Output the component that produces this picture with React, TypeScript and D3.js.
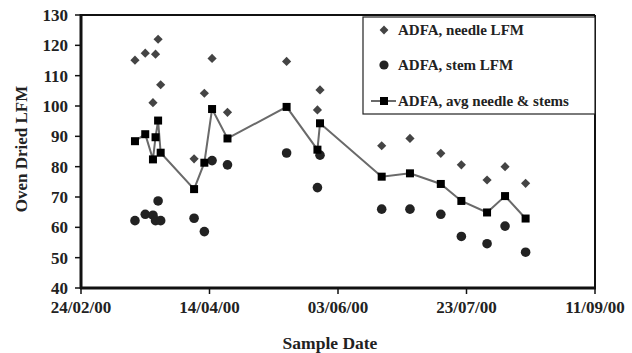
import React from "react";
import * as d3 from "d3";

const dates = [
  "16/03/00", "20/03/00", "23/03/00", "24/03/00", "25/03/00", "26/03/00",
  "08/04/00", "12/04/00", "15/04/00", "21/04/00", "14/05/00", "26/05/00",
  "27/05/00", "20/06/00", "01/07/00", "13/07/00", "21/07/00", "31/07/00",
  "07/08/00", "15/08/00",
];
const needle = [
  115.1, 117.4, 101.1, 117.1, 122.0, 107.0,
  82.6, 104.2, 115.7, 97.9, 114.7, 98.7,
  105.3, 86.9, 89.3, 84.4, 80.6, 75.6,
  80.0, 74.5,
];
const stem = [
  62.2, 64.3, 64.0, 62.2, 68.7, 62.2,
  63.0, 58.6, 82.0, 80.6, 84.5, 73.1,
  83.8, 66.0, 66.0, 64.3, 57.0, 54.6,
  60.4, 51.8,
];
const avg = [
  88.4, 90.7, 82.4, 89.7, 95.2, 84.6,
  72.6, 81.3, 99.0, 89.3, 99.7, 85.6,
  94.3, 76.7, 77.8, 74.3, 68.7, 64.9,
  70.3, 62.9,
];
const xTickLabels = ["24/02/00", "14/04/00", "03/06/00", "23/07/00", "11/09/00"];
const yTicks = [40, 50, 60, 70, 80, 90, 100, 110, 120, 130];
const legendLabels = ["ADFA, needle LFM", "ADFA, stem LFM", "ADFA, avg needle & stems"];

const parse = d3.timeParse("%d/%m/%y");
const FONT = "'Liberation Serif', 'Times New Roman', serif";

export default function App() {
  const W = 632, H = 353;
  const L = 81, R = 595, T = 15, B = 288;
  const x = d3.scaleTime()
    .domain([parse(xTickLabels[0])!, parse(xTickLabels[xTickLabels.length - 1])!])
    .range([L, R]);
  const y = d3.scaleLinear().domain([40, 130]).range([B, T]);
  const pts = dates.map((d, i) => ({ t: parse(d)!, n: needle[i], s: stem[i], a: avg[i] }));
  const line = d3.line<{ t: Date; a: number }>().x(d => x(d.t)).y(d => y(d.a));
  const diamond = (cx: number, cy: number, r: number) =>
    `M${cx},${cy - r}L${cx + r},${cy}L${cx},${cy + r}L${cx - r},${cy}Z`;

  const lx = 363, ly = 17, lw = R - lx, lh = 97;
  const legY = [30, 65, 101];
  const mx = 384;

  return (
    <svg width={W} height={H} style={{ position: "absolute", left: 0, top: 0, background: "#fff" }}
      fontFamily={FONT}>
      <rect x={0} y={0} width={W} height={H} fill="#fff" />
      {/* frame top/right */}
      <line x1={L} y1={T} x2={R} y2={T} stroke="#111" strokeWidth={2} />
      <line x1={R} y1={T} x2={R} y2={B} stroke="#111" strokeWidth={2} />
      {/* y axis */}
      <line x1={L} y1={T - 1} x2={L} y2={B + 1} stroke="#111" strokeWidth={3} />
      {yTicks.map(v => (
        <g key={v}>
          <line x1={L - 6} x2={L} y1={y(v)} y2={y(v)} stroke="#111" strokeWidth={1.5} />
          <text x={68} y={y(v)} dy="0.35em" textAnchor="end" fontSize={17} fontWeight="bold" fill="#222">{v}</text>
        </g>
      ))}
      {/* x axis */}
      <line x1={L - 1} y1={B} x2={R + 1} y2={B} stroke="#111" strokeWidth={3} />
      {xTickLabels.map(s => (
        <g key={s}>
          <line x1={x(parse(s)!)} x2={x(parse(s)!)} y1={B} y2={B + 6} stroke="#111" strokeWidth={1.5} />
          <text x={x(parse(s)!)} y={313} textAnchor="middle" fontSize={17} fontWeight="bold" fill="#222">{s}</text>
        </g>
      ))}
      <text x={330} y={349} textAnchor="middle" fontSize={17.5} fontWeight="bold" fill="#222">Sample Date</text>
      <text transform={`translate(27,${149}) rotate(-90)`} textAnchor="middle" fontSize={17} fontWeight="bold" fill="#222">Oven Dried LFM</text>

      {/* data */}
      <path d={line(pts) || ""} fill="none" stroke="#6a6a6a" strokeWidth={2} />
      {pts.map((p, i) => (
        <path key={"n" + i} d={diamond(x(p.t), y(p.n), 4.6)} fill="#444" />
      ))}
      {pts.map((p, i) => (
        <circle key={"s" + i} cx={x(p.t)} cy={y(p.s)} r={4.8} fill="#222" />
      ))}
      {pts.map((p, i) => (
        <rect key={"a" + i} x={x(p.t) - 4} y={y(p.a) - 4} width={8} height={8} fill="#000" />
      ))}

      {/* legend */}
      <rect x={lx} y={ly} width={lw} height={lh} fill="#fff" stroke="#222" strokeWidth={1.2} />
      <path d={diamond(mx, legY[0], 4.4)} fill="#444" />
      <circle cx={mx} cy={legY[1]} r={4.6} fill="#222" />
      <line x1={371} x2={396} y1={legY[2]} y2={legY[2]} stroke="#6a6a6a" strokeWidth={2} />
      <rect x={mx - 4} y={legY[2] - 4} width={8} height={8} fill="#000" />
      {legendLabels.map((s, i) => (
        <text key={s} x={398} y={legY[i]} dy="0.35em" fontSize={15} fontWeight="bold" fill="#222">{s}</text>
      ))}
    </svg>
  );
}
